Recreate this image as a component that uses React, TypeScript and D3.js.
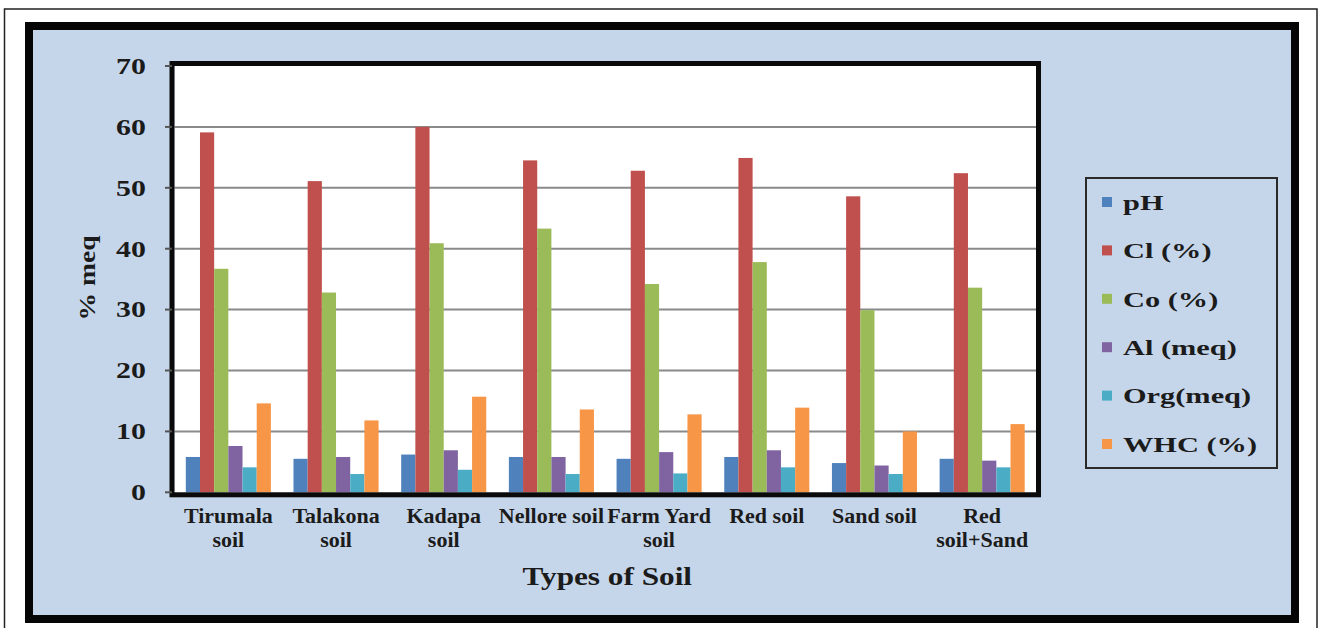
import React from "react";
import * as d3 from "d3";

// Soil properties measured for each soil type
const categories = [
  "Tirumala soil",
  "Talakona soil",
  "Kadapa soil",
  "Nellore soil",
  "Farm Yard soil",
  "Red soil",
  "Sand soil",
  "Red soil+Sand",
];
const categoryLines = [
  ["Tirumala", "soil"],
  ["Talakona", "soil"],
  ["Kadapa", "soil"],
  ["Nellore soil"],
  ["Farm Yard", "soil"],
  ["Red soil"],
  ["Sand soil"],
  ["Red", "soil+Sand"],
];

const seriesNames = ["pH", "Cl (%)", "Co (%)", "Al (meq)", "Org(meq)", "WHC (%)"];
const seriesColors = ["#4f81bd", "#c0504d", "#9bbb59", "#8064a2", "#4bacc6", "#f79646"];

const pH = [5.8, 5.5, 6.2, 5.8, 5.5, 5.8, 4.8, 5.5];
const cl = [59.1, 51.1, 60.0, 54.5, 52.8, 54.9, 48.6, 52.4];
const co = [36.7, 32.8, 40.9, 43.3, 34.2, 37.8, 29.9, 33.6];
const al = [7.6, 5.8, 6.9, 5.8, 6.6, 6.9, 4.4, 5.2];
const org = [4.1, 3.0, 3.7, 3.0, 3.1, 4.1, 3.0, 4.1];
const whc = [14.6, 11.8, 15.7, 13.6, 12.8, 13.9, 10.0, 11.2];
const seriesValues = [pH, cl, co, al, org, whc];

const yTicks = [0, 10, 20, 30, 40, 50, 60, 70];

const FONT = "'Liberation Serif', 'Times New Roman', serif";
const INK = "#1b1b1b";

function SText({
  x,
  y,
  size,
  sx = 1,
  anchor = "middle",
  rotate = 0,
  dy,
  children,
}: {
  x: number;
  y: number;
  size: number;
  sx?: number;
  anchor?: string;
  rotate?: number;
  dy?: string;
  children: React.ReactNode;
}) {
  return (
    <text
      transform={`translate(${x},${y}) rotate(${rotate}) scale(${sx},1)`}
      textAnchor={anchor}
      dy={dy}
      fontFamily={FONT}
      fontWeight="bold"
      fontSize={size}
      fill={INK}
    >
      {children}
    </text>
  );
}

export default function App() {
  const W = 1321;
  const H = 628;
  const plot = { left: 174.5, right: 1036, top: 66, bottom: 492.3 };

  const x0 = d3
    .scaleBand<string>()
    .domain(categories)
    .range([plot.left, plot.right])
    .paddingInner(0.21)
    .paddingOuter(0.105);
  const x1 = d3
    .scaleBand<string>()
    .domain(seriesNames)
    .range([0, x0.bandwidth()])
    .padding(0);
  const y = d3.scaleLinear().domain([0, 70]).range([plot.bottom, plot.top]);

  const legendX = 1102;
  const legendY0 = 202;
  const legendStep = 48.4;

  return (
    <div>
      <style>{`body{margin:0}`}</style>
      <svg width={W} height={H} style={{ display: "block" }}>
        <rect x={0} y={0} width={W} height={H} fill="#ffffff" />
        {/* thin outer border */}
        <rect x={4.5} y={9} width={1312.5} height={630} fill="none" stroke="#222" strokeWidth={1.5} />
        {/* chart area with heavy frame */}
        <rect x={29} y={26} width={1266} height={593} fill="#c6d6ea" stroke="#050505" strokeWidth={8} />

        {/* plot area */}
        <rect
          x={plot.left}
          y={plot.top}
          width={plot.right - plot.left}
          height={plot.bottom - plot.top}
          fill="#ffffff"
        />
        {yTicks
          .filter((t) => t > 0 && t < 70)
          .map((t) => (
            <line
              key={`g${t}`}
              x1={plot.left}
              x2={plot.right}
              y1={y(t)}
              y2={y(t)}
              stroke="#8a8a8a"
              strokeWidth={2}
            />
          ))}

        {/* bars */}
        {categories.map((c, ci) => (
          <g key={c} transform={`translate(${x0(c)},0)`}>
            {seriesNames.map((s, si) => {
              const v = seriesValues[si][ci];
              return (
                <rect
                  key={s}
                  x={x1(s)}
                  y={y(v)}
                  width={x1.bandwidth()}
                  height={y(0) - y(v)}
                  fill={seriesColors[si]}
                />
              );
            })}
          </g>
        ))}

        {/* plot frame and axes */}
        <rect
          x={plot.left - 2.5}
          y={plot.top - 2.5}
          width={plot.right - plot.left + 5}
          height={plot.bottom - plot.top + 5}
          fill="none"
          stroke="#0a0a0a"
          strokeWidth={5}
        />
        {yTicks.map((t) => (
          <line key={`t${t}`} x1={165} x2={172} y1={y(t)} y2={y(t)} stroke="#555" strokeWidth={2} />
        ))}
        {yTicks.map((t) => (
          <SText key={`l${t}`} x={146} y={y(t)} size={23} sx={1.3} anchor="end" dy="0.34em">
            {t}
          </SText>
        ))}

        {/* category labels */}
        {categoryLines.map((lines, ci) => {
          const cx = (x0(categories[ci]) as number) + x0.bandwidth() / 2;
          return lines.map((ln, li) => (
            <SText key={`c${ci}-${li}`} x={cx} y={523 + li * 23.5} size={20} sx={1.1}>
              {ln}
            </SText>
          ));
        })}

        {/* axis titles */}
        <SText x={(plot.left + plot.right) / 2 + 2} y={585} size={25} sx={1.25}>
          Types of Soil
        </SText>
        <SText x={95} y={278} size={23} sx={1.2} rotate={-90}>
          % meq
        </SText>

        {/* legend */}
        <rect x={1086} y={178} width={191} height={290} fill="#c6d6ea" stroke="#2a2a2a" strokeWidth={2} />
        {seriesNames.map((s, si) => {
          const cy = legendY0 + si * legendStep;
          return (
            <g key={`lg${s}`}>
              <rect x={legendX} y={cy - 5} width={10} height={10} fill={seriesColors[si]} />
              <SText x={1123} y={cy} size={22} sx={1.38} anchor="start" dy="0.35em">
                {s}
              </SText>
            </g>
          );
        })}
      </svg>
    </div>
  );
}
